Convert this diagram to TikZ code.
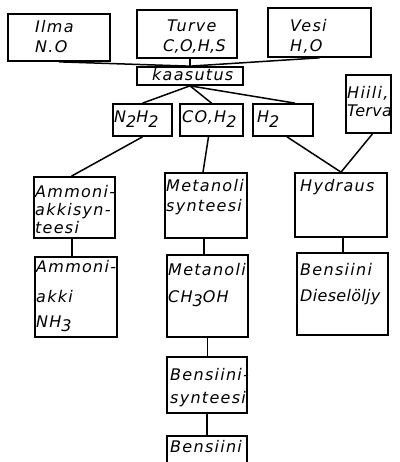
\documentclass[tikz,border=0pt]{standalone}
\usepackage{fontspec}
\setmainfont{DejaVu Sans}
\newfontfamily\lblfamily{DejaVu Sans}[LetterSpace=8]
\newfontfamily\tightfamily{DejaVu Sans}[LetterSpace=2]
\newcommand\lblfont{\lblfamily\itshape\fontsize{16}{19}\selectfont}
\newcommand\tight{\tightfamily\itshape}
\newcommand\sub[1]{\raisebox{-4.5pt}{#1}}
\usetikzlibrary{fit}
\begin{document}
\begin{tikzpicture}[x=1pt,y=-1pt,
  box/.style={draw, line width=1.7pt, inner sep=0pt, rectangle},
  lbl/.style={anchor=base west, inner sep=0pt, font=\lblfont},
  link/.style={line width=1.5pt}]
\useasboundingbox (0,0) rectangle (399,462);
\clip (0,0) rectangle (399,462);

% feedstocks
\node[box, fit={(8,14) (110,61)}] (ilma) {};
\node[box, fit={(137,10) (237,58)}] (turve) {};
\node[box, fit={(268,8) (371,57)}] (vesi) {};
\node[lbl] (ilmaA) at (35,33) {Ilma};
\node[lbl] (ilmaB) at (35,53) {N.O};
\node[lbl] (turveA) at (167,32) {Turve};
\node[lbl] (turveB) at (163,52) {\tight C,O,H,S};
\node[lbl] (vesiA) at (290,32) {Vesi};
\node[lbl] (vesiB) at (290,52) {H,O};

% gasification
\node[box, fit={(137,67) (243,85)}] (kaasutus) {};
\node[lbl] (kaasA) at (152,81) {kaasutus};

% gas fractions
\node[box, fit={(113,104) (172,136)}] (n2h2) {};
\node[box, fit={(180,104) (243,136)}] (coh2) {};
\node[box, fit={(253,104) (313,136)}] (h2) {};
\node[box, fit={(346,75) (391,133)}] (hiili) {};
\node[lbl] (n2h2A) at (114,123) {N\sub{2}H\sub{2}};
\node[lbl] (coh2A) at (182,123) {CO,H\sub{2}};
\node[lbl] (h2A) at (257,123) {H\sub{2}};
\node[lbl] (hiiliA) at (347,99) {Hiili,};
\node[lbl] (hiiliB) at (347,117) {\tight Terva};

% processes
\node[box, fit={(34,177) (115,238)}] (ammsyn) {};
\node[box, fit={(165,173) (247,238)}] (metsyn) {};
\node[box, fit={(295,173) (387,237)}] (hydr) {};
\node[lbl] (ammA) at (35,197) {Ammoni-};
\node[lbl] (ammB) at (35,215) {akkisyn-};
\node[lbl] (ammC) at (35,233) {teesi};
\node[lbl] (metA) at (166,192) {Metanoli};
\node[lbl] (metB) at (166,211) {synteesi};
\node[lbl] (hydA) at (300,192) {Hydraus};

% products
\node[box, fit={(35,257) (117,337)}] (nh3) {};
\node[box, fit={(167,255) (248,337)}] (ch3oh) {};
\node[box, fit={(297,253) (388,335)}] (diesel) {};
\node[lbl] (nh3A) at (36,272) {Ammoni-};
\node[lbl] (nh3B) at (36,302) {akki};
\node[lbl] (nh3C) at (36,327) {NH\sub{3}};
\node[lbl] (ch3A) at (168,275) {Metanoli};
\node[lbl] (ch3B) at (168,302) {CH\sub{3}OH};
\node[lbl] (dieA) at (300,275) {Bensiini};
\node[lbl] (dieB) at (300,301) {\tight Dieselöljy};

% gasoline route
\node[box, fit={(167,357) (247,413)}] (bsyn) {};
\node[box, fit={(167,436) (247,475)}] (bens) {};
\node[lbl] (bsynA) at (170,380) {Bensiini-};
\node[lbl] (bsynB) at (170,403) {synteesi};
\node[lbl] (bensA) at (170,452) {Bensiini};

% connectors
\draw[link] (ilma.south) -- (kaasutus.north);
\draw[link] (kaasutus.north |- turve.south) -- (kaasutus.north);
\draw[link] (vesi.south) -- (kaasutus.north);
\draw[link] (kaasutus.south) -- (n2h2.north);
\draw[link] (kaasutus.south) -- (coh2.north);
\draw[link] (kaasutus.south) -- ([xshift=12pt]h2.north);
\draw[link] (n2h2.south) -- ([xshift=-3pt]ammsyn.north);
\draw[link] ([xshift=-3pt]coh2.south) -- ([xshift=-3pt]metsyn.north);
\draw[link] ([xshift=4pt]h2.south) -- (hydr.north);
\draw[link] ([xshift=4pt]hiili.south) -- (hydr.north);
\draw[link] ([xshift=-2.5pt]ammsyn.south) -- ([xshift=-2.5pt]ammsyn.south |- nh3.north);
\draw[link] ([xshift=-2pt]metsyn.south) -- ([xshift=-2pt]metsyn.south |- ch3oh.north);
\draw[link] ([xshift=2pt]hydr.south) -- ([xshift=2pt]hydr.south |- diesel.north);
\draw[link] (ch3oh.south) -- (ch3oh.south |- bsyn.north);
\draw[link] (bsyn.south) -- (bsyn.south |- bens.north);
\end{tikzpicture}
\end{document}
